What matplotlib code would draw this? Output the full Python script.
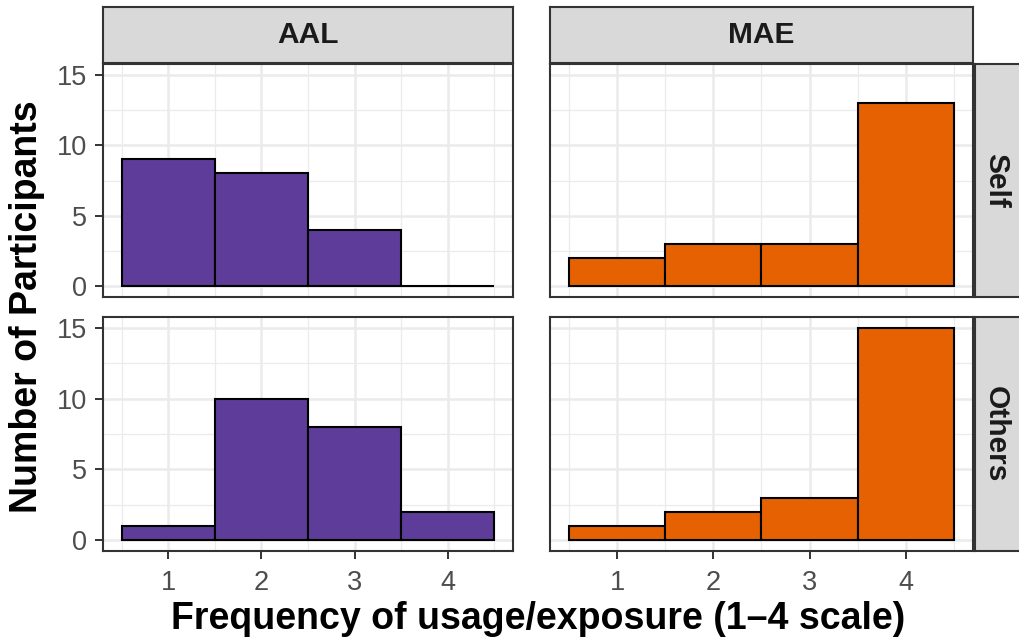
import matplotlib
matplotlib.use("Agg")
import matplotlib.pyplot as plt

plt.rcParams['font.family'] = ['Liberation Sans', 'DejaVu Sans']

# Data: counts of participants per frequency level (1-4)
levels = [1, 2, 3, 4]
columns = ["AAL", "MAE"]
rows = ["Self", "Others"]
aal_self = [9, 8, 4, 0]
mae_self = [2, 3, 3, 13]
aal_others = [1, 10, 8, 2]
mae_others = [1, 2, 3, 15]
fill_colors = {"AAL": "#5E3C99", "MAE": "#E66101"}

counts = {
    ("Self", "AAL"): aal_self,
    ("Self", "MAE"): mae_self,
    ("Others", "AAL"): aal_others,
    ("Others", "MAE"): mae_others,
}

W, H = 1020, 643
fig = plt.figure(figsize=(W / 100, H / 100), dpi=100)


def px_axes(x0, y0, x1, y1, **kw):
    return fig.add_axes([x0 / W, 1 - y1 / H, (x1 - x0) / W, (y1 - y0) / H], **kw)


col_x = {"AAL": (103, 513), "MAE": (550, 973)}
row_y = {"Self": (64, 297), "Others": (317, 551)}

border = "#333333"
grid = "#EBEBEB"
tick_col = "#4D4D4D"

for r in rows:
    for c in columns:
        x0, x1 = col_x[c]
        y0, y1 = row_y[r]
        ax = px_axes(x0, y0, x1, y1)
        ax.bar(levels, counts[(r, c)], width=1.0, color=fill_colors[c],
               edgecolor="black", linewidth=1.5, zorder=3)
        ax.set_xlim(0.3, 4.7)
        ax.set_ylim(-0.75, 15.75)
        ax.set_xticks(levels)
        ax.set_yticks([0, 5, 10, 15])
        ax.set_xticks([0.5, 1.5, 2.5, 3.5, 4.5], minor=True)
        ax.set_yticks([2.5, 7.5, 12.5], minor=True)
        ax.grid(which="major", color=grid, linewidth=1.8, zorder=0)
        ax.grid(which="minor", color=grid, linewidth=0.9, zorder=0)
        ax.set_axisbelow(True)
        for s in ax.spines.values():
            s.set_color(border)
            s.set_linewidth(1.5)
            s.set_zorder(5)
        ax.tick_params(which="minor", length=0)
        ax.tick_params(which="major", length=5.5, width=1.4, color=border,
                       labelcolor=tick_col, labelsize=19.5)
        ax.tick_params(axis="x", pad=8)
        ax.tick_params(axis="y", pad=6)
        if c != "AAL":
            ax.tick_params(axis="y", labelleft=False, length=0)
        if r != "Others":
            ax.tick_params(axis="x", labelbottom=False, length=0)

# column strips
for c in columns:
    x0, x1 = col_x[c]
    sa = px_axes(x0, 7, x1, 63)
    sa.set_facecolor("#D9D9D9")
    sa.set_xticks([])
    sa.set_yticks([])
    for s in sa.spines.values():
        s.set_color(border)
        s.set_linewidth(1.5)
    sa.text(0.5, 0.5, c, ha="center", va="center", fontsize=21.5,
            fontweight="bold", color="#1A1A1A", transform=sa.transAxes)

# row strips
for r in rows:
    y0, y1 = row_y[r]
    sa = px_axes(975, y0, 1022, y1)
    sa.set_facecolor("#D9D9D9")
    sa.set_xticks([])
    sa.set_yticks([])
    for s in sa.spines.values():
        s.set_color(border)
        s.set_linewidth(1.5)
    sa.text(0.45, 0.5, r, ha="center", va="center", fontsize=21.5,
            fontweight="bold", color="#1A1A1A", rotation=-90,
            transform=sa.transAxes)

fig.text(538 / W, 1 - 619 / H, "Frequency of usage/exposure (1\u20134 scale)",
         ha="center", va="center", fontsize=27, fontweight="bold", color="black")
fig.text(27 / W, 1 - 307 / H, "Number of Participants", ha="center",
         va="center", rotation=90, fontsize=27, fontweight="bold", color="black")

fig.savefig("out.png", dpi=100, facecolor="white")
